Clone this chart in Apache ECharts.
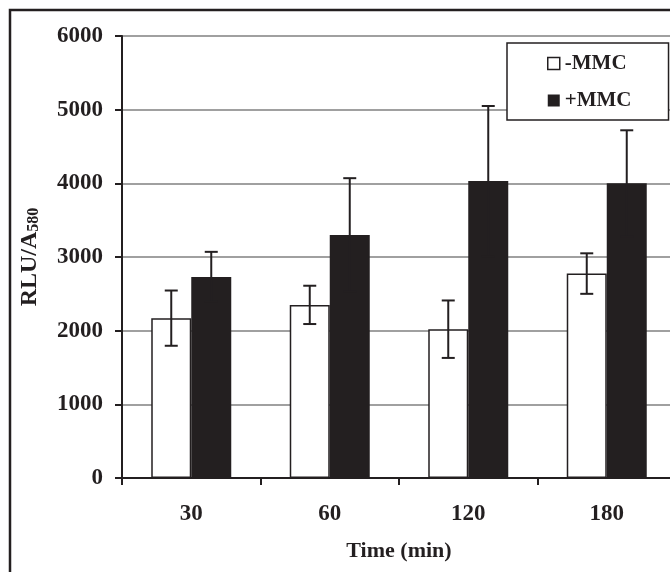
<!DOCTYPE html>
<html>
<head>
<meta charset="utf-8">
<script src="https://cdn.jsdelivr.net/npm/echarts@6/dist/echarts.min.js"></script>
<style>
  html, body { margin: 0; padding: 0; background: #fff; }
  #main { width: 670px; height: 572px; }
</style>
</head>
<body>
<div id="main"></div>
<script>
// data
var categories = ['30', '60', '120', '180'];
var minusMMC = [2170, 2350, 2020, 2775];
var minusErr = [375, 260, 390, 275];
var plusMMC = [2730, 3300, 4030, 4000];
var plusErr = [340, 770, 1020, 720];

(function() {
    var myChart = echarts.init(document.getElementById('main'));
    var ink = '#231f20';
    var font = "'Liberation Serif', 'Times New Roman', serif";
    var barW = 40;

    function errData(vals, errs) {
        return vals.map(function(v, i) { return [i, v, errs[i]]; });
    }

    // error bar: vertical line with caps, shifted to the bar's centre
    function errRender(offset) {
        return function(params, api) {
            var i = api.value(0), v = api.value(1), e = api.value(2);
            var hi = api.coord([i, v + e]);
            var lo = api.coord([i, v - e]);
            var x = hi[0] + offset;
            var cap = 6.5;
            var style = { stroke: ink, lineWidth: 2 };
            return {
                type: 'group',
                children: [
                    { type: 'line', shape: { x1: x, y1: hi[1], x2: x, y2: lo[1] }, style: style },
                    { type: 'line', shape: { x1: x - cap, y1: hi[1], x2: x + cap, y2: hi[1] }, style: style },
                    { type: 'line', shape: { x1: x - cap, y1: lo[1], x2: x + cap, y2: lo[1] }, style: style }
                ]
            };
        };
    }

    var option = {
        animation: false,
        backgroundColor: '#fff',
        graphic: [
            {
                type: 'rect',
                shape: { x: 10, y: 10, width: 700, height: 600 },
                style: { fill: 'none', stroke: ink, lineWidth: 2.5 },
                silent: true
            }
        ],
        grid: {
            left: 122,
            top: 36,
            width: 554,
            height: 442,
            containLabel: false,
            outerBoundsMode: 'none'
        },
        legend: {
            orient: 'vertical',
            left: 507,
            top: 43,
            padding: [10, 37, 9, 40],
            itemGap: 16,
            itemWidth: 12,
            itemHeight: 12,
            icon: 'rect',
            backgroundColor: '#fff',
            borderColor: ink,
            borderWidth: 1.5,
            borderRadius: 0,
            textStyle: { fontFamily: font, fontWeight: 'bold', fontSize: 21, color: ink },
            data: [
                { name: '-MMC', itemStyle: { color: '#fff', borderColor: ink, borderWidth: 1.5 } },
                { name: '+MMC', itemStyle: { color: ink, borderWidth: 0 } }
            ]
        },
        xAxis: {
            type: 'category',
            data: categories,
            name: 'Time (min)',
            nameLocation: 'middle',
            nameGap: 62,
            nameTextStyle: { fontFamily: font, fontWeight: 'bold', fontSize: 22, color: ink },
            axisLine: { show: true, lineStyle: { color: ink, width: 2 } },
            axisTick: { show: true, length: 7, lineStyle: { color: ink, width: 2 } },
            axisLabel: { margin: 25, fontFamily: font, fontWeight: 'bold', fontSize: 23, color: ink },
            splitLine: { show: false }
        },
        yAxis: {
            type: 'value',
            min: 0,
            max: 6000,
            interval: 1000,
            name: '{a|RLU/A}{b|580}',
            nameLocation: 'middle',
            nameGap: 80,
            nameRotate: 90,
            nameTextStyle: {
                rich: {
                    a: { fontFamily: font, fontWeight: 'bold', fontSize: 24, color: ink, verticalAlign: 'bottom' },
                    b: { fontFamily: font, fontWeight: 'bold', fontSize: 16, color: ink, verticalAlign: 'bottom' }
                }
            },
            axisLine: { show: true, lineStyle: { color: ink, width: 2 } },
            axisTick: { show: true, length: 7, lineStyle: { color: ink, width: 2 } },
            axisLabel: {
                margin: 19,
                fontFamily: font,
                fontWeight: 'bold',
                fontSize: 23,
                color: ink,
                formatter: function(v) { return String(v); }
            },
            splitLine: { show: true, lineStyle: { color: '#808080', width: 1.5 } }
        },
        series: [
            {
                name: '-MMC',
                type: 'bar',
                data: minusMMC,
                barWidth: barW,
                barGap: '0%',
                itemStyle: { color: '#fff', borderColor: ink, borderWidth: 1.5 }
            },
            {
                name: '+MMC',
                type: 'bar',
                data: plusMMC,
                barWidth: barW,
                barGap: '0%',
                itemStyle: { color: ink }
            },
            {
                name: 'err-',
                type: 'custom',
                data: errData(minusMMC, minusErr),
                encode: { x: 0, y: 1 },
                renderItem: errRender(-barW / 2),
                z: 5
            },
            {
                name: 'err+',
                type: 'custom',
                data: errData(plusMMC, plusErr),
                encode: { x: 0, y: 1 },
                renderItem: errRender(barW / 2),
                z: 5
            }
        ]
    };
    myChart.setOption(option);
})();
</script>
</body>
</html>
